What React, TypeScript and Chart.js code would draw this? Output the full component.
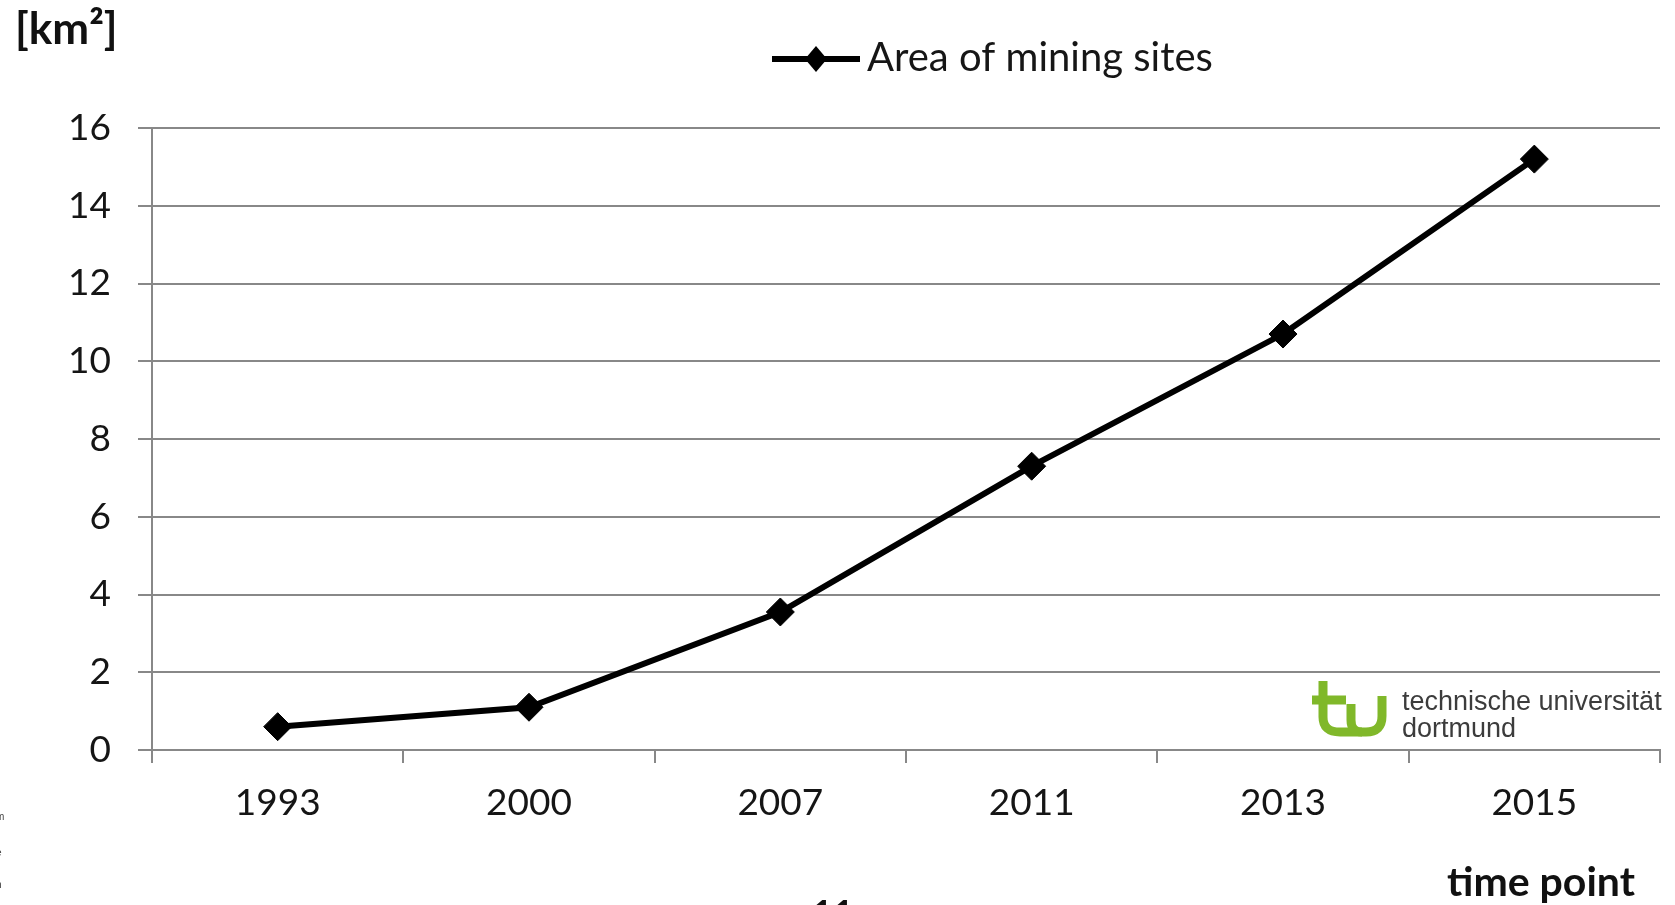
import React, { useEffect, useRef } from "react";
import { Chart, registerables } from "chart.js";

Chart.register(...registerables);

const categories = ["1993", "2000", "2007", "2011", "2013", "2015"];
const areaValues = [0.6, 1.1, 3.55, 7.3, 10.7, 15.2];
const seriesLabel = "Area of mining sites";
const yMin = 0;
const yMax = 16;
const yStep = 2;
const yUnitLabel = "[km²]";
const xTitleLabel = "time point";
const logoLines = ["technische universität", "dortmund"];
const edgeFragments = ["m", "e", "f", "n"];

const W = 1675;
const H = 905;
const FONT = "Lato, 'Open Sans', sans-serif";
const GRID = "#888888";
const TEXT = "#161616";
const GREEN = "#80b82a";

const extrasPlugin = {
  id: "extras",
  afterDraw(chart: any) {
    const ctx = chart.ctx as CanvasRenderingContext2D;
    ctx.save();
    // Legend
    const ly = 59;
    ctx.strokeStyle = "#000";
    ctx.lineWidth = 6;
    ctx.beginPath();
    ctx.moveTo(772, ly);
    ctx.lineTo(860, ly);
    ctx.stroke();
    ctx.fillStyle = "#000";
    ctx.beginPath();
    ctx.moveTo(816, ly - 13);
    ctx.lineTo(827, ly);
    ctx.lineTo(816, ly + 13);
    ctx.lineTo(805, ly);
    ctx.closePath();
    ctx.fill();
    ctx.fillStyle = TEXT;
    ctx.font = `40px ${FONT}`;
    ctx.textBaseline = "middle";
    ctx.textAlign = "left";
    ctx.fillText(chart.data.datasets[0].label, 867, 58);

    // Axis unit and title
    ctx.textBaseline = "alphabetic";
    ctx.fillStyle = "#111";
    ctx.font = `bold 44px ${FONT}`;
    ctx.fillText(yUnitLabel, 15, 44);
    ctx.font = `bold 41px ${FONT}`;
    ctx.fillText(xTitleLabel, 1447, 896);

    // Logo
    ctx.strokeStyle = GREEN;
    ctx.lineWidth = 9;
    ctx.lineCap = "butt";
    ctx.lineJoin = "round";
    ctx.beginPath();
    ctx.moveTo(1312, 700);
    ctx.lineTo(1346, 700);
    ctx.stroke();
    ctx.beginPath();
    ctx.moveTo(1323, 681);
    ctx.lineTo(1323, 717);
    ctx.quadraticCurveTo(1323, 732, 1340, 732);
    ctx.lineTo(1366, 732);
    ctx.quadraticCurveTo(1382, 732, 1382, 716);
    ctx.lineTo(1382, 696);
    ctx.stroke();
    ctx.beginPath();
    ctx.moveTo(1351, 704);
    ctx.lineTo(1351, 720);
    ctx.quadraticCurveTo(1351, 732, 1362, 732);
    ctx.stroke();
    ctx.fillStyle = "#3c3c3c";
    ctx.font = `27px 'Liberation Sans', Arial, sans-serif`;
    ctx.fillText(logoLines[0], 1402, 710);
    ctx.fillText(logoLines[1], 1402, 737);
    ctx.restore();
  },
};

export default function App() {
  const ref = useRef<HTMLCanvasElement | null>(null);

  useEffect(() => {
    if (!ref.current) return;
    const chart = new Chart(ref.current, {
      type: "line",
      data: {
        labels: categories,
        datasets: [
          {
            label: seriesLabel,
            data: areaValues,
            borderColor: "#000",
            backgroundColor: "#000",
            borderWidth: 6,
            pointStyle: "rectRot",
            pointRadius: 14,
            pointBorderWidth: 1,
            pointBackgroundColor: "#000",
            pointBorderColor: "#000",
            tension: 0,
          },
        ],
      },
      options: {
        responsive: false,
        animation: false,
        devicePixelRatio: 1,
        layout: { padding: { left: 0, right: 11, top: 128, bottom: 0 } },
        plugins: {
          legend: { display: false },
          tooltip: { enabled: false },
        },
        scales: {
          x: {
            type: "category",
            offset: true,
            grid: {
              offset: true,
              drawOnChartArea: false,
              drawTicks: true,
              tickLength: 13,
              color: GRID,
              lineWidth: 2,
            },
            border: { display: true, color: GRID, width: 2 },
            ticks: {
              font: { family: FONT, size: 37 },
              color: "#151515",
              padding: 18,
              maxRotation: 0,
              autoSkip: false,
            },
            afterFit: (s: any) => {
              s.height = H - 750;
              s.paddingLeft = 0;
              s.paddingRight = 0;
            },
          },
          y: {
            min: yMin,
            max: yMax,
            ticks: {
              stepSize: yStep,
              padding: 27,
              font: { family: FONT, size: 37 },
              color: "#151515",
            },
            grid: { color: GRID, lineWidth: 2, tickLength: 14, drawTicks: true },
            border: { display: true, color: GRID, width: 2 },
            afterFit: (s: any) => {
              s.width = 152;
              s.paddingTop = 0;
              s.paddingBottom = 0;
            },
          },
        },
      },
      plugins: [extrasPlugin],
    });
    return () => chart.destroy();
  }, []);

  const fragTops = [812, 848, 860, 880];

  return (
    <div
      style={{
        position: "fixed",
        left: 0,
        top: 0,
        width: W,
        height: H,
        overflow: "hidden",
        background: "#fff",
      }}
    >
      <canvas ref={ref} width={W} height={H} style={{ display: "block" }} />
      {edgeFragments.map((f, i) => (
        <div
          key={i}
          style={{
            position: "absolute",
            left: -4,
            top: fragTops[i],
            font: "10px 'Liberation Sans', Arial, sans-serif",
            color: "#444",
            lineHeight: "10px",
          }}
        >
          {f}
        </div>
      ))}
      <div
        style={{
          position: "absolute",
          left: 812,
          top: 892,
          font: `bold 36px ${FONT}`,
          color: "#111",
          lineHeight: "40px",
        }}
      >
        11
      </div>
    </div>
  );
}
